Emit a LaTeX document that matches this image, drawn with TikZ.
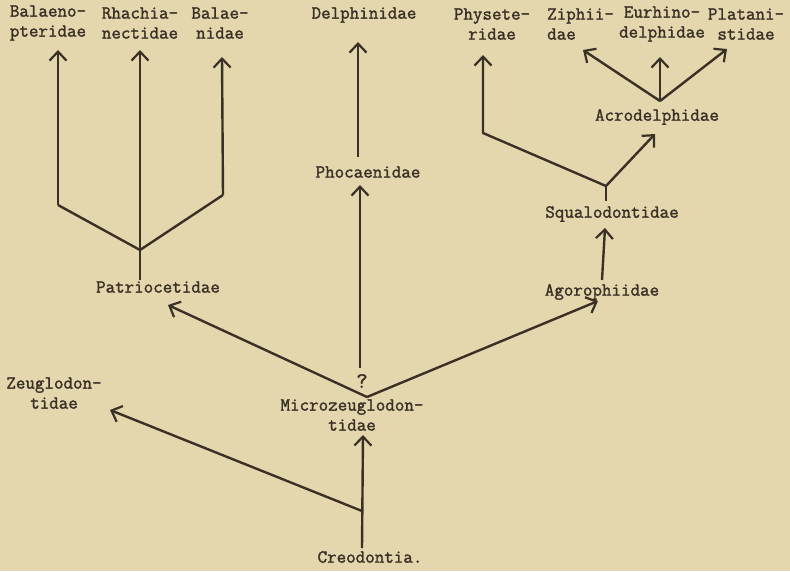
\documentclass[tikz,border=0pt]{standalone}
\usepackage{fontspec}
\usetikzlibrary{arrows.meta}
\definecolor{paper}{HTML}{E4D7AE}
\definecolor{ink}{HTML}{3A3026}
\newfontfamily\typeface{Latin Modern Mono}[FakeBold=1.6]
\newcommand\typewriter{\typeface\fontsize{18.5}{20}\selectfont}

\begin{document}
\begin{tikzpicture}[x=1pt,y=-1pt,
    family/.style={font=\typewriter,text=ink,align=center,inner sep=0pt},
    branch/.style={draw=ink,line width=2.4pt,line join=round},
    descent/.style={branch,-{Straight Barb[length=9pt,width=17pt,line width=2.2pt]}}]
    \fill[paper] (0,0) rectangle (790,571);
    \useasboundingbox (0,0) rectangle (790,571);

    % families
    \node[family] (balaeno) at (48,23) {Balaeno-\\pteridae};
    \node[family] (rhachia) at (140,23) {Rhachia-\\nectidae};
    \node[family] (balaenid) at (220,23) {Balae-\\nidae};
    \node[family] (delphin) at (364,15) {Delphinidae};
    \node[family] (physeter) at (492,24) {Physete-\\ridae};
    \node[family,anchor=west,align=left] (ziphi) at (547,24) {Ziphii-\\dae};
    \node[family] (eurhino) at (662,24) {Eurhino-\\delphidae};
    \node[family] (platan) at (746,24) {Platani-\\stidae};
    \node[family] (acrodel) at (657,117) {Acrodelphidae};
    \node[family] (phocaen) at (368,172) {Phocaenidae};
    \node[family] (squalo) at (612,214) {Squalodontidae};
    \node[family] (patrio) at (158,287) {Patriocetidae};
    \node[family] (agoro) at (602,292) {Agorophiidae};
    \node[family] (zeuglo) at (54,393) {Zeuglodon-\\tidae};
    \node[family] (micro) at (352,415) {Microzeuglodon-\\tidae};
    \node[family] (creod) at (370,557) {Creodontia.};
    \node[family,font=\typeface\fontsize{22}{22}\selectfont] (query) at (362,381) {?};

    % branch points and arrow ends
    \coordinate (tBal) at (58,50);   \coordinate (bBal) at (58,205);
    \coordinate (tRha) at (140,50);  \coordinate (jPat) at (140,250);
    \coordinate (sPat) at (140,280);
    \coordinate (tBae) at (222,57);  \coordinate (bBae) at (223,195);
    \coordinate (jMic) at (367,397);
    \coordinate (tPat) at (168,305); \coordinate (tAgo) at (598,301);
    \coordinate (bPho) at (360,368); \coordinate (tPho) at (360,185);
    \coordinate (bDel) at (358,157); \coordinate (tDel) at (358,42);
    \coordinate (bCre) at (362,548); \coordinate (jCre) at (362,511);
    \coordinate (tMic) at (363,435); \coordinate (tZeu) at (110,410);
    \coordinate (bSqu) at (602,280); \coordinate (tSqu) at (605,228);
    \coordinate (sSqu) at (606,201); \coordinate (jSqu) at (606,186);
    \coordinate (cPhy) at (483,133); \coordinate (tPhy) at (483,55);
    \coordinate (tAcr) at (655,134); \coordinate (jAcr) at (660,101);
    \coordinate (tZip) at (583,50);  \coordinate (tEur) at (660,57);
    \coordinate (tPla) at (727,49);

    % whalebone branch
    \draw[descent] (sPat) -- (tRha);
    \draw[branch] (bBal) -- (jPat) -- (bBae);
    \draw[descent] (bBal) -- (tBal);
    \draw[descent] (bBae) -- (tBae);

    % stem
    \draw[descent] (bCre) -- (tMic);
    \draw[descent] (jCre) -- (tZeu);
    \draw[descent] (jMic) -- (tPat);
    \draw[descent] (jMic) -- (tAgo);
    \draw[descent] (bPho) -- (tPho);
    \draw[descent] (bDel) -- (tDel);

    % toothed branch
    \draw[descent] (bSqu) -- (tSqu);
    \draw[branch] (sSqu) -- (jSqu);
    \draw[descent] (jSqu) -- (cPhy) -- (tPhy);
    \draw[descent] (jSqu) -- (tAcr);
    \draw[descent] (jAcr) -- (tZip);
    \draw[descent] (jAcr) -- (tEur);
    \draw[descent] (jAcr) -- (tPla);
\end{tikzpicture}
\end{document}
